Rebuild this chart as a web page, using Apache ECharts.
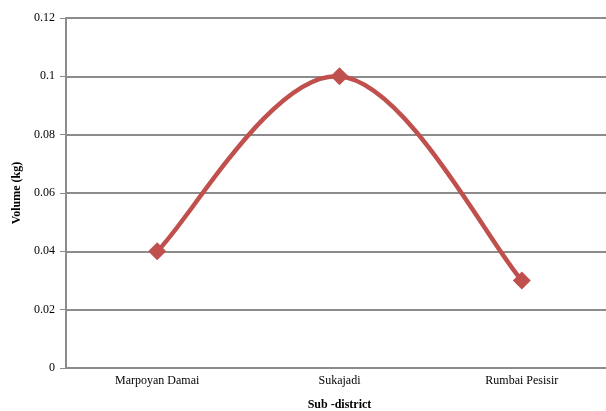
<!DOCTYPE html>
<html>
<head>
<meta charset="utf-8">
<script src="https://cdn.jsdelivr.net/npm/echarts@6/dist/echarts.min.js"></script>
<style>
  html, body { margin: 0; padding: 0; background: #fff; }
  #chart { width: 606px; height: 411px; }
</style>
</head>
<body>
<div id="chart"></div>
<script>
// Sub-district names and the measured volume for each (kg)
const subDistricts = ['Marpoyan Damai', 'Sukajadi', 'Rumbai Pesisir'];
const volumeKg = [0.04, 0.1, 0.03];
const yTicks = { min: 0, max: 0.12, interval: 0.02 };

const font = '"Liberation Serif", "Times New Roman", serif';
const lineColor = '#C0504D';
const chart = echarts.init(document.getElementById('chart'), null, { renderer: 'canvas' });

// Smoothed segment i -> i+1 (Catmull-Rom style, endpoints repeated),
// all positions taken from the axes through api.coord.
const tension = 1 / 5.5;
function renderSegment(params, api) {
  const i = params.dataIndex;
  const n = volumeKg.length;
  if (i >= n - 1) return null;
  const pt = k => {
    const j = Math.max(0, Math.min(n - 1, k));
    return api.coord([j, volumeKg[j]]);
  };
  const p0 = pt(i - 1), p1 = pt(i), p2 = pt(i + 1), p3 = pt(i + 2);
  const c1 = [p1[0] + (p2[0] - p0[0]) * tension, p1[1] + (p2[1] - p0[1]) * tension];
  const c2 = [p2[0] - (p3[0] - p1[0]) * tension, p2[1] - (p3[1] - p1[1]) * tension];
  return {
    type: 'bezierCurve',
    shape: { x1: p1[0], y1: p1[1], x2: p2[0], y2: p2[1],
             cpx1: c1[0], cpy1: c1[1], cpx2: c2[0], cpy2: c2[1] },
    style: { stroke: lineColor, lineWidth: 4.5, fill: null, lineCap: 'round' }
  };
}

chart.setOption({
  animation: false,
  backgroundColor: '#ffffff',
  grid: { left: 66, top: 18, width: 547, height: 350, containLabel: false, outerBoundsMode: 'none' },
  xAxis: {
    type: 'category',
    data: subDistricts,
    boundaryGap: true,
    name: 'Sub -district',
    nameLocation: 'middle',
    nameGap: 31,
    nameTextStyle: { fontFamily: font, fontSize: 12, fontWeight: 'bold', color: '#000' },
    axisLine: { lineStyle: { color: '#8c8c8c', width: 2 } },
    axisTick: { show: false },
    axisLabel: { fontFamily: font, fontSize: 12, color: '#000', margin: 7 },
    splitLine: { show: false }
  },
  yAxis: {
    type: 'value',
    min: yTicks.min,
    max: yTicks.max,
    interval: yTicks.interval,
    name: 'Volume (kg)',
    nameLocation: 'middle',
    nameGap: 42,
    nameRotate: 90,
    nameTextStyle: { fontFamily: font, fontSize: 12, fontWeight: 'bold', color: '#000' },
    axisLine: { show: true, lineStyle: { color: '#8c8c8c', width: 2 } },
    axisTick: { show: true, length: 6, lineStyle: { color: '#8c8c8c', width: 1 } },
    axisLabel: {
      fontFamily: font, fontSize: 12, color: '#000', margin: 11,
      formatter: v => String(parseFloat(v.toFixed(2)))
    },
    splitLine: { show: true, lineStyle: { color: '#8c8c8c', width: 2 } }
  },
  series: [
    {
      type: 'custom',
      renderItem: renderSegment,
      data: volumeKg.map((v, i) => [i, v]),
      encode: { x: 0, y: 1 },
      z: 2
    },
    {
      type: 'line',
      data: volumeKg,
      symbol: 'diamond',
      symbolSize: 18,
      showSymbol: true,
      lineStyle: { width: 0, opacity: 0 },
      itemStyle: { color: lineColor },
      z: 3
    }
  ]
});
</script>
</body>
</html>
